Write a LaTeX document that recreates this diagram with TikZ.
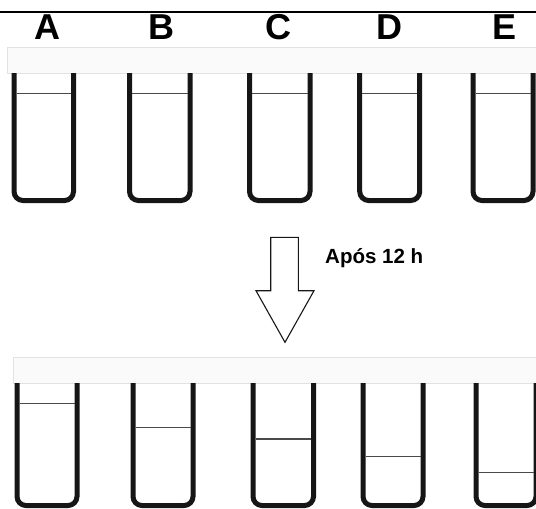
\documentclass[tikz,border=0pt]{standalone}
\usepackage{fontspec}
\setmainfont{Liberation Sans}
\usepackage{xcolor}
\usepackage{tikz}

\definecolor{bandfill}{HTML}{FAFAFA}
\definecolor{bandline}{HTML}{E2E2E2}
\definecolor{levelgray}{HTML}{4A4A4A}
\definecolor{tubeblack}{HTML}{161616}

\tikzset{
	tubewall/.style={line width=5pt, draw=tubeblack, rounded corners=9pt},
	level/.style={line width=1.5pt, draw=levelgray},
	band/.style={draw=bandline, fill=bandfill, line width=0.8pt},
	letter/.style={font=\bfseries\fontsize{36}{36}\selectfont, inner sep=0pt},
}

\begin{document}
\begin{tikzpicture}[x=1pt,y=-1pt]
		\useasboundingbox (0,0) rectangle (536,509);
		\draw[line width=2pt] (0,12) -- (536,12);
		
		% tube names on top
		\foreach \t/\xc in {A/47, B/161, C/278, D/389, E/505}{
			\node[letter] (lab\t) at (\xc,27) {\t};
		}
		
		% before
		\draw[band] (7.5,47) rectangle (540,73);
		\foreach \t/\l/\r in {A/14/73.5, B/129.5/190, C/249.5/310, D/359.7/419.7, E/473/533}{
			\draw[tubewall] (\l,73) -- (\l,200.5) -- (\r,200.5) -- (\r,73);
			\draw[level] (\l+2.5,93.3) -- (\r-2.5,93.3);
		}
		
		% arrow
		\draw[line width=1.1pt, draw=tubeblack, line join=miter]
			(270.7,237.3) -- (298.3,237.3) -- (298.3,290.7) -- (314,290.7)
			-- (285,342.3) -- (256,290.7) -- (270.7,290.7) -- cycle;
		\node[anchor=west, font=\bfseries\fontsize{20.5}{21}\selectfont, inner sep=0pt] (time) at (325,258) {Após 12 h};
		
		% after
		\draw[band] (13,357) rectangle (540,383);
		\foreach \t/\l/\r/\h in {A/17/77/403.3, B/133/193/427.3, C/253/313.5/439, D/363/423/456.3, E/476/536/472.3}{
			\draw[tubewall] (\l,383) -- (\l,505.5) -- (\r,505.5) -- (\r,383);
			\draw[level] (\l+2.5,\h) -- (\r-2.5,\h);
		}
\end{tikzpicture}
\end{document}
